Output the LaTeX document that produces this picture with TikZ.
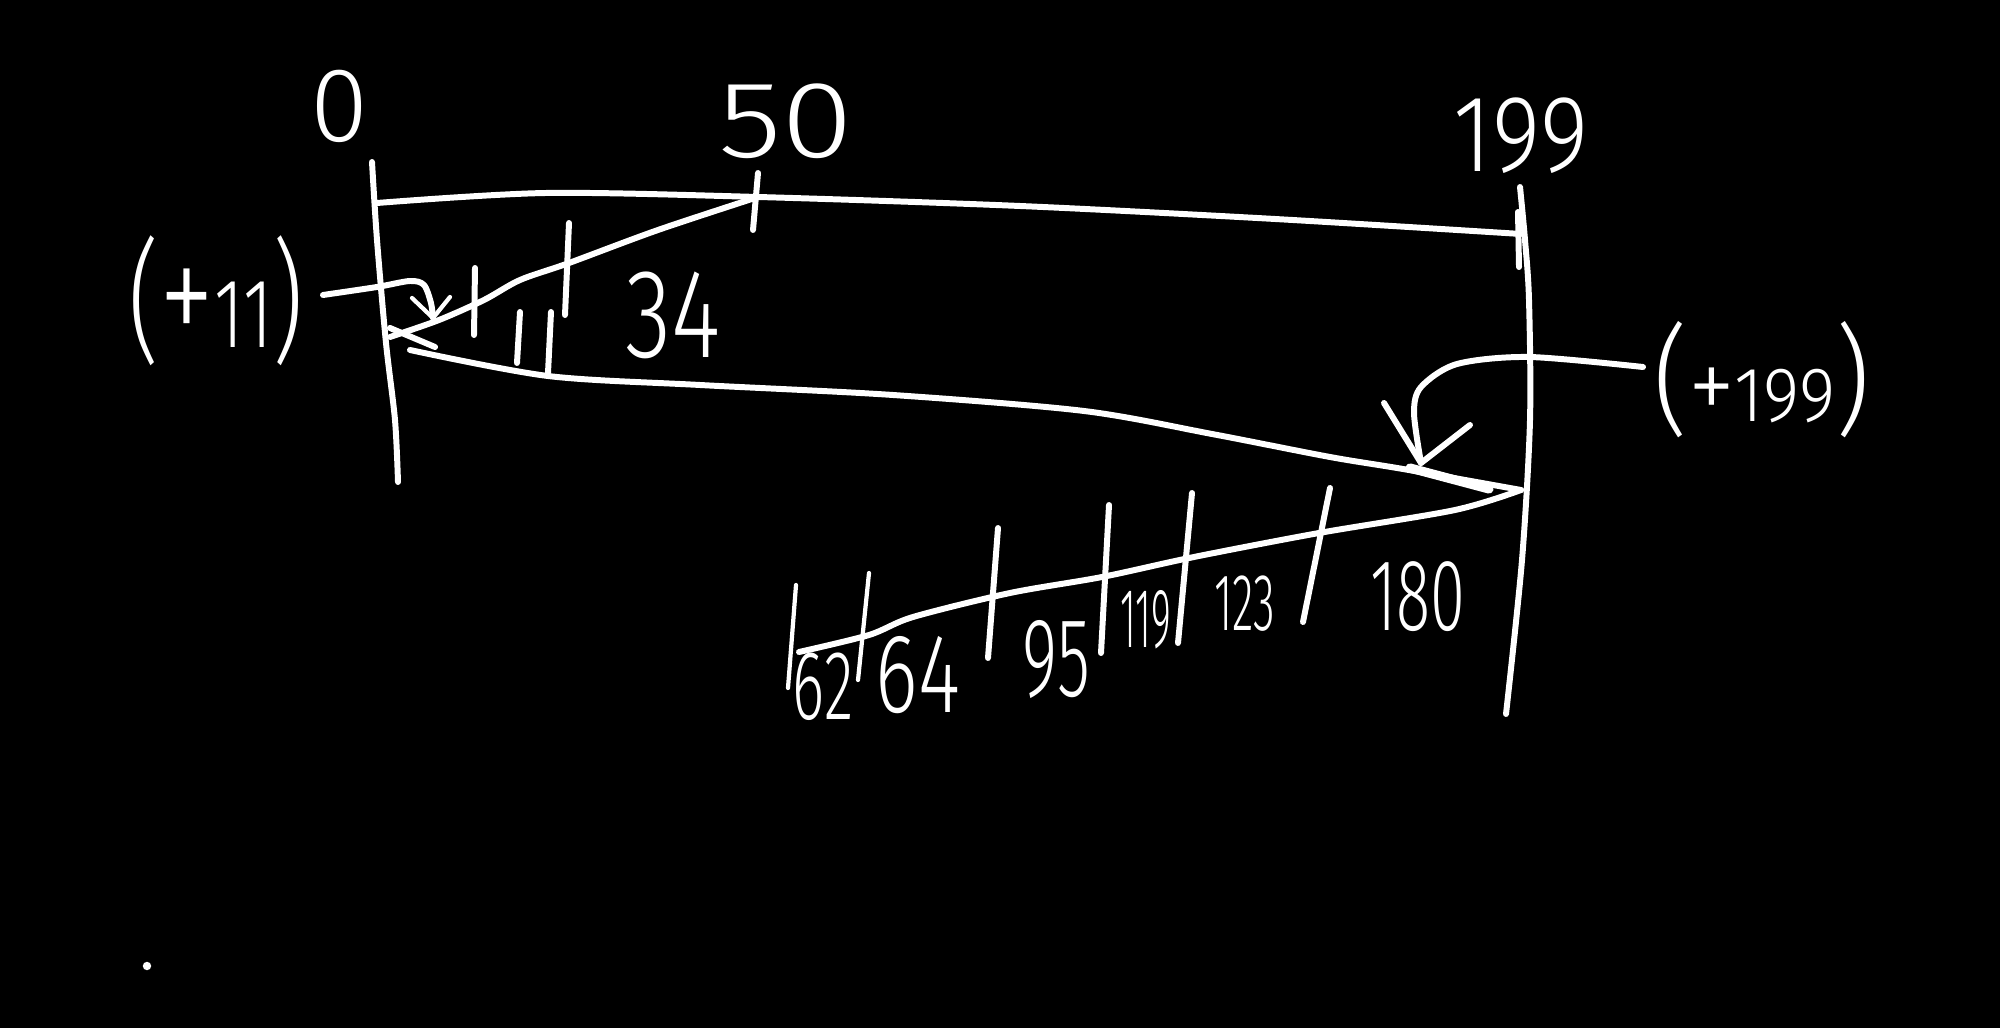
\documentclass[tikz,border=0pt]{standalone}
\usepackage{fontspec}
\setmainfont{Fira Sans}[UprightFont={* Light}]
\newcommand\fs[1]{\fontsize{#1}{#1}\selectfont}
\tikzset{
  pen/.style={draw=white, line width=1.7pt, line cap=round, line join=round},
  thinpen/.style={pen, line width=1.2pt},
  lab/.style={text=white, inner sep=0pt, anchor=base},
}
\begin{document}
\begin{tikzpicture}[x=0.01cm, y=-0.01cm]
\fill[black] (0,0) rectangle (2000,1028);
\useasboundingbox (0,0) rectangle (2000,1028);

% key points
\coordinate (t0) at (377,203);
\coordinate (t50) at (758,197);
\coordinate (t199) at (1521,234);
\coordinate (tipL) at (390,337);
\coordinate (tipR) at (1521,490);
\coordinate (endZ) at (799,652);
\coordinate (a11) at (323,295);
\coordinate (tip11) at (433,318);
\coordinate (a199) at (1643,367);
\coordinate (tip199) at (1421,463);

% labels
\node[lab, font=\fs{30}] (l0) at (340,142) {0};
\node[lab, font=\fs{31}, xscale=1.2] (l50) at (786,158) {50};
\node[lab, font=\fs{31}, xscale=0.85] (l199) at (1521,172) {199};
\node[lab, font=\fs{28}, xscale=0.72] (p11) at (216,348) {{\fs{38}(}{\fs{44}+}11{\fs{38})}};
\node[lab, font=\fs{36}, xscale=0.75] (l34) at (673,358) {34};
\node[lab, font=\fs{22}, xscale=0.9] (p199) at (1762,422) {{\fs{34}(}{\fs{30}+}199{\fs{34})}};
\node[lab, font=\fs{28}, xscale=0.62] (l62) at (823,720) {62};
\node[lab, font=\fs{32}, xscale=0.72] (l64) at (918,712) {64};
\node[lab, font=\fs{32}, xscale=0.6] (l95) at (1056,697) {95};
\node[lab, font=\fs{24}, xscale=0.45] (l119) at (1146,648) {119};
\node[lab, font=\fs{23}, xscale=0.55] (l123) at (1245,630) {123};
\node[lab, font=\fs{29}, xscale=0.62] (l180) at (1418,630) {180};

% left axis line (0)
\draw[pen] plot[smooth] coordinates {(372,162) (377,240) (386,343) (395,420) (398,482)};
% right axis line (199)
\draw[pen] plot[smooth] coordinates {(1520,187) (1525,240) (1529,300) (1530,420) (1522,560) (1506,714)};
\draw[pen] (1518,212) -- (1519,267);

% top line 0 .. 199
\draw[pen] plot[smooth] coordinates {(t0) (546,193) (t50) (1020,206) (1275,219) (t199)};
% 50 tick
\draw[pen] (758,173) -- (753,230);

% zigzag: 50 -> left tip -> right -> lower diagonal
\draw[pen] plot[smooth] coordinates {(t50) (658,230) (569,263) (520,280) (484,300) (439,320) (tipL)};
\draw[pen] (390,328) -- (435,347);
\draw[pen] plot[smooth] coordinates {(410,350) (548,376) (700,385) (893,395) (1084,411) (1212,434) (1330,457) (1403,469) (tipR)};
\draw[pen, line width=2.6pt] (1410,468) -- (1489,489);
\draw[pen] plot[smooth] coordinates {(tipR) (1455,510) (1319,533) (1194,557) (1102,577) (1010,593) (913,617) (869,635) (endZ)};

% ticks on the upper diagonal
\draw[pen] (569,223) -- (565,315);
\draw[pen] (475,268) -- (474,335);
% ticks on the lower line
\draw[pen] (520,312) -- (517,363);
\draw[pen] (551,312) -- (548,373);
% ticks on the lower diagonal
\draw[thinpen] (796,585) -- (788,688);
\draw[thinpen] (869,573) -- (858,680);
\draw[pen] (998,528) -- (988,658);
\draw[pen] (1109,505) -- (1101,653);
\draw[pen] (1192,493) -- (1178,643);
\draw[pen] (1330,488) -- (1303,622);

% (+11) arrow
\draw[pen] plot[smooth] coordinates {(a11) (377,287) (410,281) (424,285) (431,303) (tip11)};
\draw[thinpen] (412,298) -- (tip11) -- (450,297);

% (+199) arrow
\draw[pen] plot[smooth] coordinates {(a199) (1529,357) (1457,364) (1421,387) (1414,413) (tip199)};
\draw[pen] (1384,403) -- (tip199) -- (1470,425);

% dot
\fill[white] (147,966) circle (1.2pt);
\end{tikzpicture}
\end{document}
